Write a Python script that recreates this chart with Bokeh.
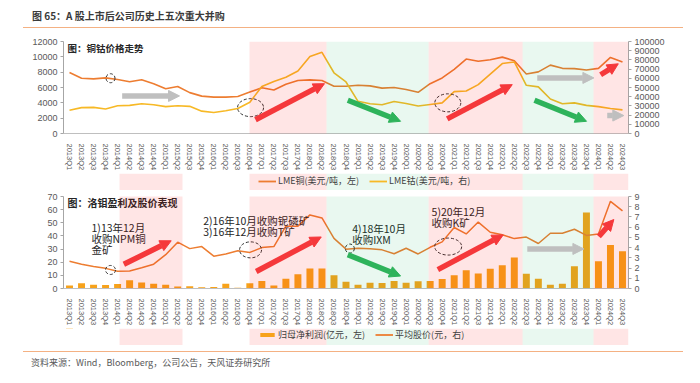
from bokeh.plotting import figure
from bokeh.models import (FactorRange, Range1d, LinearAxis, BoxAnnotation, Arrow, NormalHead,
                          Legend, LegendItem, Div, FixedTicker, BasicTickFormatter)
from bokeh.layouts import column
from bokeh.embed import file_html
from bokeh.resources import INLINE
from bokeh.core.properties import value

# ---------------- data ----------------
quarters = ["2013Q1", "2013Q2", "2013Q3", "2013Q4", "2014Q1", "2014Q2", "2014Q3", "2014Q4",
            "2015Q1", "2015Q2", "2015Q3", "2015Q4", "2016Q1", "2016Q2", "2016Q3", "2016Q4",
            "2017Q1", "2017Q2", "2017Q3", "2017Q4", "2018Q1", "2018Q2", "2018Q3", "2018Q4",
            "2019Q1", "2019Q2", "2019Q3", "2019Q4", "2020Q1", "2020Q2", "2020Q3", "2020Q4",
            "2021Q1", "2021Q2", "2021Q3", "2021Q4", "2022Q1", "2022Q2", "2022Q3", "2022Q4",
            "2023Q1", "2023Q2", "2023Q3", "2023Q4", "2024Q1", "2024Q2", "2024Q3"]

copper = [7960, 7210, 7125, 7250, 7040, 6750, 7000, 6500, 5830, 6120, 5330, 4875,
          4750, 4750, 4830, 5400, 5960, 5670, 6420, 6920, 7000, 6920, 6170, 6170,
          6290, 6210, 5920, 6000, 5750, 5375, 6500, 7250, 8375, 9710, 9420, 9625,
          9960, 9500, 7750, 8040, 8920, 8500, 8460, 8290, 8500, 9920, 9330]

cobalt = [25300, 28100, 28400, 26700, 30200, 30600, 32300, 31250, 29200, 30200, 29500, 24300,
          22900, 24700, 27100, 34000, 51000, 56600, 61100, 68000, 83600, 88200, 66000, 56000,
          35000, 32300, 31250, 34700, 32600, 29900, 31600, 33300, 45500, 46200, 53100, 64600,
          76000, 77800, 52400, 50700, 37500, 32300, 33300, 30600, 29200, 27100, 25700]

profit = [2.2, 3.9, 2.9, 2.7, 3.4, 6.3, 4.6, 3.6, 2.9, 1.5,
          1.7, 1.0, 1.2, 3.6, 0.5, 3.9, 5.8, 2.2, 7.5, 10.9,
          15.3, 15.3, 10.0, 5.1, 2.9, 4.4, 4.1, 5.8, 4.4, 5.6,
          5.8, 7.3, 10.0, 13.9, 11.4, 15.1, 17.7, 23.6, 11.2, 7.5,
          2.9, 3.6, 17.0, 57.9, 20.7, 33.1, 28.4]

price = [2.66, 2.38, 2.16, 1.97, 1.69, 1.72, 2.03, 2.38, 3.31, 4.53,
         3.9, 4.1, 3.16, 3.38, 3.69, 3.53, 4.0, 4.1, 6.1, 6.1,
         7.2, 6.9, 4.9, 3.85, 3.94, 3.88, 3.78, 3.4, 3.94, 3.38,
         4.03, 4.56, 5.97, 5.34, 6.5, 5.5, 5.25, 4.88, 5.03, 4.4,
         5.4, 5.4, 5.8, 5.19, 5.34, 8.53, 7.6]

copper_ticks = [0, 2000, 4000, 6000, 8000, 10000, 12000]
cobalt_ticks = [0, 10000, 20000, 30000, 40000, 50000, 60000, 70000, 80000, 90000, 100000]
profit_ticks = [0, 10, 20, 30, 40, 50, 60, 70]
price_ticks = [0, 1, 2, 3, 4, 5, 6, 7, 8, 9]

# shaded periods (in category-index units): (start, end, kind)
shade_top = [(15.47, 21.88, "up"), (21.88, 30.37, "down"), (30.37, 38.19, "up"),
             (38.19, 44.09, "down"), (44.09, 47.0, "up")]
shade_bottom = [(4.66, 9.9, "up")] + shade_top

# annotation arrows: (x0, y0, x1, y1, kind)
arrows_top = [(4.88, 4900, 9.65, 4900, "flat"), (15.97, 1790, 21.71, 6500, "up"),
              (23.65, 4340, 28.04, 1590, "down"), (31.92, 1910, 37.33, 6375, "up"),
              (39.41, 7250, 44.12, 7250, "flat"), (39.18, 4340, 43.51, 1590, "down"),
              (44.68, 7660, 46.15, 9090, "up"), (45.23, 2340, 46.61, 2340, "flat")]
arrows_bottom = [(5.02, 18.4, 8.96, 36.3, "up"), (16.03, 12.9, 21.44, 39.2, "up"),
                 (23.65, 25.7, 28.04, 9.5, "down"), (31.14, 14.4, 36.58, 40.8, "up"),
                 (38.58, 30.1, 43.29, 30.1, "flat"), (44.53, 39.6, 45.78, 52.5, "up")]

# dashed ellipses: (x, y, w_px, h_px)
ell_top = [(3.91, 7210, 9, 9), (15.56, 3375, 26, 18), (31.97, 4000, 26, 18)]
ell_bottom = [(3.91, 14.1, 10, 9), (15.56, 29.4, 22, 16), (23.82, 30.4, 9, 9), (32.0, 31.9, 27, 17)]

# event notes (x, y_top, text)
notes = [(2.33, 52.3, "1)13年12月\n收购NPM铜\n金矿"),
         (11.62, 57.8, "2)16年10月收购铌磷矿\n3)16年12月收购T矿"),
         (24.02, 51.6, "4)18年10月\n收购IXM"),
         (30.62, 64.3, "5)20年12月\n收购K矿")]

CJK = "Noto Sans CJK SC"
LAT = "Liberation Sans"
ARROW_COL = {"up": "#F5383B", "down": "#2EB35B", "flat": "#BFBFBF"}
SHADE_COL = {"up": ("#FF0000", 0.10), "down": ("#00B050", 0.085)}

xr = FactorRange(factors=quarters, range_padding=0)


def base_fig(y_end, extra_name, extra_end, ticks, extra_ticks, top_border):
    p = figure(x_range=xr, y_range=Range1d(0, y_end), width=688, height=top_border + 96 + 36,
               min_border_left=63, min_border_right=60, min_border_top=top_border,
               min_border_bottom=36, output_backend="svg", toolbar_location=None)
    p.extra_y_ranges = {extra_name: Range1d(0, extra_end)}
    p.outline_line_color = None
    p.xgrid.visible = False
    p.ygrid.visible = False
    rax = LinearAxis(y_range_name=extra_name, ticker=FixedTicker(ticks=extra_ticks),
                     formatter=BasicTickFormatter(use_scientific=False))
    p.add_layout(rax, "right")
    p.yaxis[0].ticker = FixedTicker(ticks=ticks)
    for ax in p.yaxis:
        ax.major_label_text_font = LAT
        ax.major_label_text_font_size = "9px"
        ax.major_label_text_color = "#595959"
        ax.axis_line_color = "#A6A6A6"
        ax.major_tick_line_color = "#A6A6A6"
        ax.major_tick_out = 3
        ax.major_tick_in = 0
        ax.minor_tick_line_color = None
        ax.major_label_standoff = 3
    xa = p.xaxis[0]
    xa.major_label_orientation = "vertical"
    xa.major_label_text_font = LAT
    xa.major_label_text_font_size = "7.5px"
    xa.major_label_text_color = "#595959"
    xa.axis_line_color = "#BFBFBF"
    xa.major_tick_line_color = None
    xa.major_label_standoff = 4
    return p


def add_shading(p, spans, top, top_units):
    for a, b, kind in spans:
        col, alpha = SHADE_COL[kind]
        p.add_layout(BoxAnnotation(left=a, right=b, top=top, top_units=top_units,
                                   bottom=600, bottom_units="canvas",
                                   fill_color=col, fill_alpha=alpha, line_color=None))


def add_arrows(p, arrows):
    for x0, y0, x1, y1, kind in arrows:
        c = ARROW_COL[kind]
        p.add_layout(Arrow(x_start=x0, y_start=y0, x_end=x1, y_end=y1, line_color=c,
                           line_width=5.5,
                           end=NormalHead(size=11, fill_color=c, line_color=c)))


def add_ellipses(p, ells):
    p.ellipse(x=[e[0] for e in ells], y=[e[1] for e in ells],
              width=[e[2] for e in ells], height=[e[3] for e in ells],
              width_units="screen", height_units="screen",
              fill_alpha=0, line_color="#333333", line_dash="3 2", line_width=1)


def legend_row(spans, entries, gh, yoff):
    """A thin strip under a chart carrying its legend (sharing the chart's x range).
    The proxy renderers sit outside the strip's visible y range, so only the legend shows."""
    q = figure(x_range=xr, y_range=Range1d(0, 1), width=688, height=17,
               min_border_left=63, min_border_right=60, min_border_top=0, min_border_bottom=0,
               x_axis_location=None, y_axis_location=None,
               output_backend="svg", toolbar_location=None)
    q.outline_line_color = None
    q.xgrid.visible = False
    q.ygrid.visible = False
    add_shading(q, spans, 0, "canvas")
    items = []
    for label, kind, color in entries:
        if kind == "bar":
            r = q.vbar(x=[quarters[0]], top=[6], bottom=[5], width=0.58,
                       fill_color=color, line_color=None)
        else:
            r = q.line(x=[quarters[0]], y=[5], line_color=color, line_width=1.8)
        items.append(LegendItem(label=label, renderers=[r]))
    leg = Legend(items=items, orientation="horizontal", location=(195, yoff),
                 border_line_color=None, background_fill_alpha=0,
                 label_text_font=CJK, label_text_font_size="9px", label_text_color="#404040",
                 glyph_width=18, glyph_height=gh, label_standoff=2, spacing=10,
                 padding=0, margin=0, label_height=10)
    q.add_layout(leg)
    return q


# ---------------- top chart ----------------
p1 = base_fig(12000, "co", 100000, copper_ticks, cobalt_ticks, 10)
add_shading(p1, shade_top, 12000, "data")
p1.line(x=quarters, y=copper, line_color="#ED7D31", line_width=1.6)
p1.line(x=quarters, y=cobalt, y_range_name="co", line_color="#F7B926", line_width=1.6)
add_ellipses(p1, ell_top)
add_arrows(p1, arrows_top)
p1.text(x=[0.33], y=[11090], text=["图：铜钴价格走势"], text_font=value(CJK),
        text_font_size="9.5px", text_font_style="bold", text_baseline="middle",
        text_color="#262626")
leg1 = legend_row(shade_bottom, [("LME铜(美元/吨，左)", "line", "#ED7D31"),
                                 ("LME钴(美元/吨，右)", "line", "#F7B926")], 8, 3)

# ---------------- bottom chart ----------------
p2 = base_fig(70, "px", 9, profit_ticks, price_ticks, 6)
add_shading(p2, shade_bottom, 0, "canvas")
p2.vbar(x=quarters, top=profit, width=0.58, fill_color="#F7A21B", line_color=None)
p2.line(x=quarters, y=price, y_range_name="px", line_color="#ED7D31", line_width=1.5)
add_ellipses(p2, ell_bottom)
add_arrows(p2, arrows_bottom)
p2.text(x=[0.33], y=[65.4], text=["图：洛钼盈利及股价表现"], text_font=value(CJK),
        text_font_size="10px", text_font_style="bold", text_baseline="middle",
        text_color="#262626")
p2.text(x=[n[0] for n in notes], y=[n[1] for n in notes], text=[n[2] for n in notes],
        text_font=value(CJK), text_font_size="10.5px", text_baseline="top",
        text_color="#262626", text_line_height=0.74)
leg2 = legend_row(shade_bottom, [("归母净利润(亿元，左)", "bar", "#F7A21B"),
                                 ("平均股价(元，右)", "line", "#ED7D31")], 5, 4)

# ---------------- header / footer ----------------
head = Div(text=('<div style="margin-left:23px;margin-top:9px;width:660px;border-bottom:1.5px solid #F4B183;'
                 'padding:0 0 4px 9px;box-sizing:border-box;font-family:\'Noto Sans CJK SC\';'
                 'font-size:10px;font-weight:bold;line-height:14px;color:#3A3A3A">'
                 '图 65：A 股上市后公司历史上五次重大并购</div>'),
           width=688, height=31, margin=(0, 0, 0, 0))
foot = Div(text=('<div style="margin-left:23px;width:660px;border-top:1.5px solid #F4B183;'
                 'margin-top:6px;padding:4px 0 0 8px;box-sizing:border-box;'
                 'font-family:\'Noto Sans CJK SC\';font-size:9px;line-height:13px;color:#595959">'
                 '资料来源：Wind，Bloomberg，公司公告，天风证券研究所</div>'),
           width=688, height=30, margin=(0, 0, 0, 0))

layout = column(head, p1, leg1, p2, leg2, foot, spacing=0)
open("out.html", "w").write(file_html(layout, INLINE))
